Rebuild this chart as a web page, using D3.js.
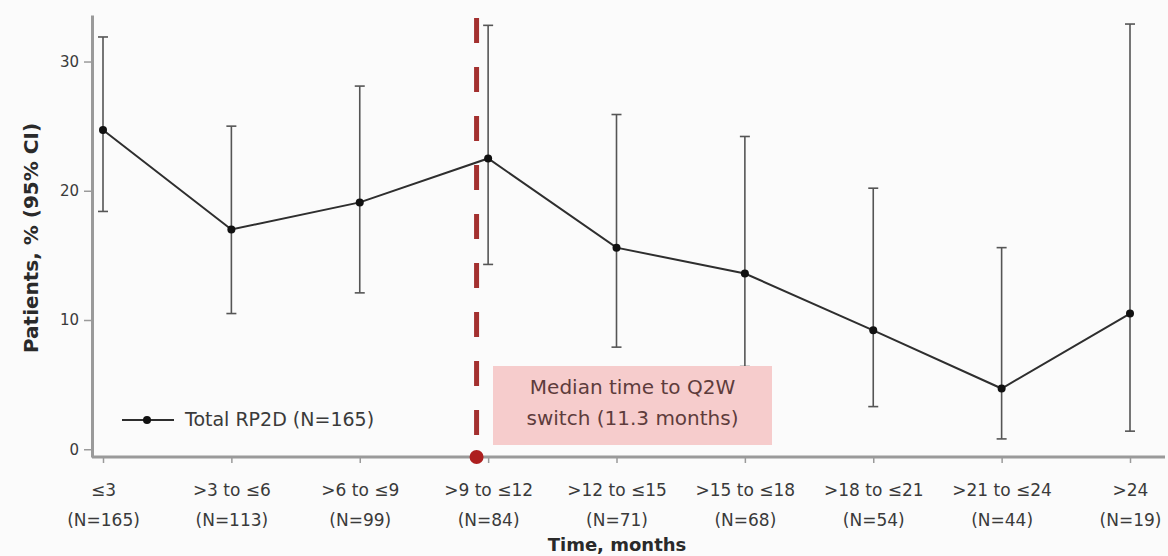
<!DOCTYPE html>
<html>
<head>
<meta charset="utf-8">
<script src="https://cdn.jsdelivr.net/npm/d3@7"></script>
<style>
  body { margin: 0; background: #fbfbfb; }
  svg { display: block; }
  svg text { font-family: "DejaVu Sans", "Liberation Sans", sans-serif; }
</style>
</head>
<body>
<script>
// data
const categories = ["≤3", ">3 to ≤6", ">6 to ≤9", ">9 to ≤12", ">12 to ≤15", ">15 to ≤18", ">18 to ≤21", ">21 to ≤24", ">24"];
const groupN = [165, 113, 99, 84, 71, 68, 54, 44, 19];
const pct = [24.7, 17.0, 19.1, 22.5, 15.6, 13.6, 9.2, 4.7, 10.5];
const ciLow = [18.4, 10.5, 12.1, 14.3, 7.9, 6.4, 3.3, 0.8, 1.4];
const ciHigh = [31.9, 25.0, 28.1, 32.8, 25.9, 24.2, 20.2, 15.6, 32.9];
const yTicks = [0, 10, 20, 30];
const medianSwitchIndex = 2.91; // 11.3 months, in category units
const legendLabel = "Total RP2D (N=165)";
const noteLines = ["Median time to Q2W", "switch (11.3 months)"];

const width = 1168, height = 556;
const margin = { top: 15, right: 3, bottom: 99, left: 92 };
const font = '"DejaVu Sans", "Liberation Sans", sans-serif';

const svg = d3.select("body").append("svg")
  .attr("width", width)
  .attr("height", height);

// scales
const x_scale = d3.scalePoint()
  .domain(categories)
  .range([103, 1130]);
const x_index = d3.scaleLinear()
  .domain([0, categories.length - 1])
  .range(x_scale.range());
const y_scale = d3.scaleLinear()
  .domain([-0.6, 33.6])
  .range([height - margin.bottom, margin.top]);

const axisColor = "#9a9a9a";
const textColor = "#3a3a3a";

// y axis
const y_axis = svg.append("g")
  .attr("transform", "translate(" + margin.left + ",0)")
  .call(d3.axisLeft(y_scale).tickValues(yTicks).tickSize(8).tickPadding(5).tickSizeOuter(0));
y_axis.attr("font-family", font);
y_axis.select(".domain").attr("stroke", axisColor).attr("stroke-width", 3);
y_axis.selectAll(".tick line").attr("stroke", axisColor).attr("stroke-width", 1.5);
y_axis.selectAll(".tick text")
  .attr("fill", textColor)
  .style("font-size", "15px");

// x axis
const x_axis = svg.append("g")
  .attr("transform", "translate(0," + (height - margin.bottom) + ")")
  .call(d3.axisBottom(x_scale).tickSize(6).tickSizeOuter(0));
x_axis.attr("font-family", font);
x_axis.select(".domain")
  .attr("d", "M" + margin.left + ",0H" + (width - margin.right))
  .attr("stroke", axisColor).attr("stroke-width", 3);
x_axis.selectAll(".tick line").attr("stroke", axisColor).attr("stroke-width", 1.5);
x_axis.selectAll(".tick text")
  .attr("fill", textColor)
  .attr("y", null).attr("dy", null)
  .style("font-size", "17px")
  .each(function(d, i) {
    const t = d3.select(this).text("");
    t.append("tspan").attr("x", 0).attr("y", 39).text(d);
    t.append("tspan").attr("x", 0).attr("y", 69).text("(N=" + groupN[i] + ")");
  });

// axis titles
svg.append("text")
  .attr("x", 617)
  .attr("y", 551)
  .attr("text-anchor", "middle")
  .attr("fill", "#2a2a2a")
  .style("font-size", "18px")
  .style("font-weight", "bold")
  .text("Time, months");
svg.append("text")
  .attr("transform", "translate(38," + 238 + ") rotate(-90)")
  .attr("text-anchor", "middle")
  .attr("fill", "#2a2a2a")
  .style("font-size", "20px")
  .style("font-weight", "bold")
  .text("Patients, % (95% CI)");

// error bars
const bars = svg.append("g").attr("stroke", "#555").attr("stroke-width", 1.6).attr("fill", "none");
categories.forEach(function(c, i) {
  const cx = x_scale(c);
  bars.append("line").attr("x1", cx).attr("x2", cx).attr("y1", y_scale(ciLow[i])).attr("y2", y_scale(ciHigh[i]));
  bars.append("line").attr("x1", cx - 5).attr("x2", cx + 5).attr("y1", y_scale(ciLow[i])).attr("y2", y_scale(ciLow[i]));
  bars.append("line").attr("x1", cx - 5).attr("x2", cx + 5).attr("y1", y_scale(ciHigh[i])).attr("y2", y_scale(ciHigh[i]));
});

// line + points
const line = d3.line()
  .x(function(d, i) { return x_scale(categories[i]); })
  .y(function(d) { return y_scale(d); });
svg.append("path")
  .datum(pct)
  .attr("fill", "none")
  .attr("stroke", "#2e2e2e")
  .attr("stroke-width", 2)
  .attr("d", line);
svg.selectAll("circle.pt")
  .data(pct)
  .enter()
  .append("circle")
  .attr("class", "pt")
  .attr("cx", function(d, i) { return x_scale(categories[i]); })
  .attr("cy", function(d) { return y_scale(d); })
  .attr("r", 4)
  .attr("fill", "#111");

// annotation box
const boxX = 493, boxY = 366, boxW = 279, boxH = 79;
svg.append("rect")
  .attr("x", boxX).attr("y", boxY)
  .attr("width", boxW).attr("height", boxH)
  .attr("fill", "#f6cccc");
svg.append("text")
  .attr("text-anchor", "middle")
  .attr("fill", "#5e3c3c")
  .style("font-size", "20px")
  .selectAll("tspan")
  .data(noteLines)
  .enter()
  .append("tspan")
  .attr("x", boxX + boxW / 2)
  .attr("y", function(d, i) { return boxY + 28 + i * 31; })
  .text(function(d) { return d; });

// median switch line
const mx = x_index(medianSwitchIndex);
svg.append("line")
  .attr("x1", mx).attr("x2", mx)
  .attr("y1", 18).attr("y2", height - margin.bottom)
  .attr("stroke", "#a3302f")
  .attr("stroke-width", 5)
  .attr("stroke-dasharray", "25,24");
svg.append("circle")
  .attr("cx", mx).attr("cy", height - margin.bottom)
  .attr("r", 7)
  .attr("fill", "#ad1f1f");

// legend
const lg = svg.append("g").attr("transform", "translate(122,420)");
lg.append("line").attr("x1", 0).attr("x2", 52).attr("stroke", "#2e2e2e").attr("stroke-width", 2);
lg.append("circle").attr("cx", 25).attr("r", 4).attr("fill", "#111");
lg.append("text")
  .attr("x", 63).attr("y", 6)
  .attr("fill", textColor)
  .style("font-size", "19px")
  .text(legendLabel);
</script>
</body>
</html>
